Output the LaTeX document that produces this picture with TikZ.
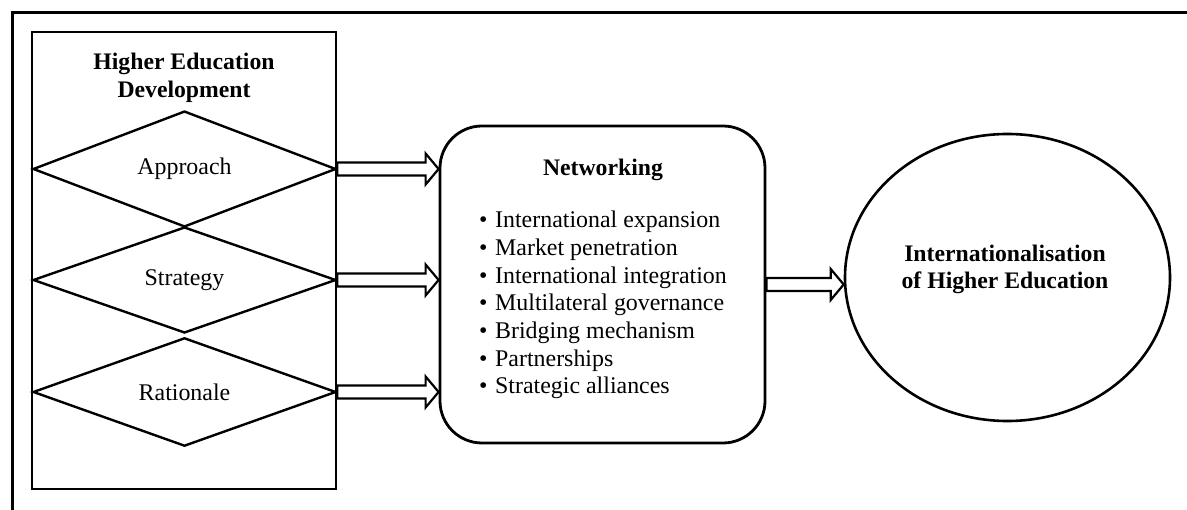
\documentclass[tikz,border=0pt]{standalone}
\usepackage{fontspec}
\setmainfont{Liberation Serif}
\usetikzlibrary{shapes.geometric,calc}
\tikzset{
  frameline/.style={line width=3.4pt, line join=miter},
  boxline/.style={draw, line width=2.6pt},
  diabox/.style={diamond, draw, line width=2.4pt, minimum width=303pt, minimum height=106pt, inner sep=0pt},
  txt/.style={font=\fontsize{23.9}{27.7}\selectfont},
  btxt/.style={font=\fontsize{23.7}{28}\selectfont\bfseries, align=center},
  harr/.style={draw, line width=2.2pt, line join=miter, fill=white}
}
\newcommand\hollowarrow[2]{%
  \draw[harr] let \p1=(#1), \p2=(#2) in
    (\x1,\y1+6.5pt) -- (\x2-13pt,\y1+6.5pt) -- (\x2-13pt,\y1+15.5pt) -- (\x2,\y1)
    -- (\x2-13pt,\y1-15.5pt) -- (\x2-13pt,\y1-6.5pt) -- (\x1,\y1-6.5pt) -- cycle;}
\begin{document}
\begin{tikzpicture}[x=1pt,y=-1pt]
\useasboundingbox (0,0) rectangle (1187,510);
\draw[frameline] (12.5,510) -- (12.5,12.5) -- (1187,12.5);

\node[boxline, minimum width=304pt, minimum height=457pt, inner sep=0pt] (hed) at (184,260.5) {};
\node[btxt] (hedtitle) at (184,78) {Higher Education\\Development};
\node[diabox, txt] (d1) at (184.5,169) {Approach};
\node[diabox, txt] (d2) at (184.5,280) {Strategy};
\node[diabox, txt] (d3) at (184.5,392) {Rationale};

\node[boxline, rounded corners=42pt, line width=2.8pt, minimum width=325pt, minimum height=317pt, inner sep=0pt] (net) at (602.5,284.5) {};
\node[btxt] (nettitle) at (603,170) {Networking};
\node[txt, anchor=west, align=left, inner sep=0pt] (netlist) at (479,305) {%
\makebox[16pt][l]{•}International expansion\\
\makebox[16pt][l]{•}Market penetration\\
\makebox[16pt][l]{•}International integration\\
\makebox[16pt][l]{•}Multilateral governance\\
\makebox[16pt][l]{•}Bridging mechanism\\
\makebox[16pt][l]{•}Partnerships\\
\makebox[16pt][l]{•}Strategic alliances};

\node[ellipse, boxline, minimum width=325pt, minimum height=287pt, inner sep=0pt] (ihe) at (1007.5,277.5) {};
\node[btxt, font=\fontsize{23.7}{27}\selectfont\bfseries] (ihetext) at (1005,269) {Internationalisation\\of Higher Education};

\hollowarrow{d1.east}{net.west |- d1.east}
\hollowarrow{d2.east}{net.west |- d2.east}
\hollowarrow{d3.east}{net.west |- d3.east}
\hollowarrow{net.east}{ihe.west |- net.east}
\end{tikzpicture}
\end{document}
